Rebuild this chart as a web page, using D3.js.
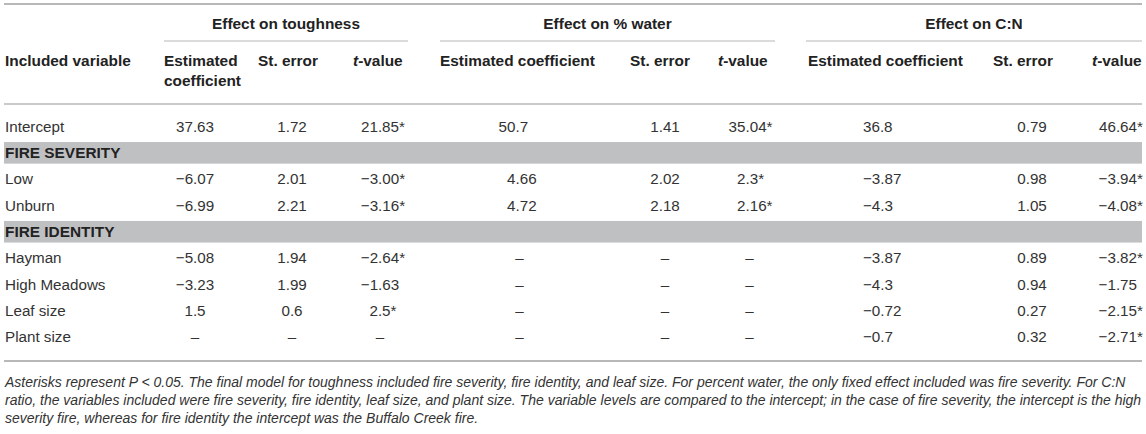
<!DOCTYPE html>
<html>
<head>
<meta charset="utf-8">
<script src="https://cdn.jsdelivr.net/npm/d3@7"></script>
<style>
  body { margin: 0; background: #fff; }
  text { font-family: "Liberation Sans", Arial, Helvetica, sans-serif; }
</style>
</head>
<body>
<div id="table"></div>
<script>
// table content
const variables = ["Intercept", "Low", "Unburn", "Hayman", "High Meadows", "Leaf size", "Plant size"];
const sections = [
    { name: "FIRE SEVERITY", before: "Low" },
    { name: "FIRE IDENTITY", before: "Hayman" }
];
const groups = ["Effect on toughness", "Effect on % water", "Effect on C:N"];
const columnHeads = ["Estimated coefficient", "St. error", "t-value"];

// one array per column, in the order of `variables`
const toughnessEst = ["37.63", "−6.07", "−6.99", "−5.08", "−3.23", "1.5", "–"];
const toughnessSE  = ["1.72", "2.01", "2.21", "1.94", "1.99", "0.6", "–"];
const toughnessT   = ["21.85*", "−3.00*", "−3.16*", "−2.64*", "−1.63", "2.5*", "–"];
const waterEst     = ["50.7", "4.66", "4.72", "–", "–", "–", "–"];
const waterSE      = ["1.41", "2.02", "2.18", "–", "–", "–", "–"];
const waterT       = ["35.04*", "2.3*", "2.16*", "–", "–", "–", "–"];
const cnEst        = ["36.8", "−3.87", "−4.3", "−3.87", "−4.3", "−0.72", "−0.7"];
const cnSE         = ["0.79", "0.98", "1.05", "0.89", "0.94", "0.27", "0.32"];
const cnT          = ["46.64*", "−3.94*", "−4.08*", "−3.82*", "−1.75", "−2.15*", "−2.71*"];

const footnote = [
    "Asterisks represent P < 0.05. The final model for toughness included fire severity, fire identity, and leaf size. For percent water, the only fixed effect included was fire severity. For C:N",
    "ratio, the variables included were fire severity, fire identity, leaf size, and plant size. The variable levels are compared to the intercept; in the case of fire severity, the intercept is the high",
    "severity fire, whereas for fire identity the intercept was the Buffalo Creek fire."
];

const seriesByColumn = [toughnessEst, toughnessSE, toughnessT, waterEst, waterSE, waterT, cnEst, cnSE, cnT];

// ---- layout ----
const W = 1146, H = 434;
const left = 4, right = 1142;
const textColor = "#333", headColor = "#222", ruleColor = "#b8b8b8", bandColor = "#bfc0c2";

const svg = d3.select("#table").append("svg")
    .attr("width", W)
    .attr("height", H);

svg.append("rect").attr("width", W).attr("height", H).attr("fill", "#fff");

// rows, with section bands inserted
const rows = [];
variables.forEach(v => {
    const s = sections.find(s => s.before === v);
    if (s) rows.push({ key: s.name, section: true });
    rows.push({ key: v, section: false });
});

const y = d3.scaleBand()
    .domain(rows.map(r => r.key))
    .range([113.4, 350.1]);

const colKeys = [];
groups.forEach(g => columnHeads.forEach(c => colKeys.push(g + "|" + c)));

const headX = d3.scaleOrdinal().domain(colKeys)
    .range([164, 258, 353, 440, 630, 718, 808, 993, 1092]);
const cellX = d3.scaleOrdinal().domain(colKeys)
    .range([195, 292, 380, 515.5, 665, 745.5, 863, 1032, 1137]);
const cellAlign = d3.scaleOrdinal().domain(colKeys)
    .range(["middle", "middle", "middle", "decimal", "middle", "decimal", "start", "middle", "end"]);
const groupSpan = d3.scaleOrdinal().domain(groups)
    .range([[164, 408], [440, 775], [806, 1142]]);

// rules
function rule(y0, x0, x1, w) {
    svg.append("line")
        .attr("x1", x0).attr("x2", x1)
        .attr("y1", y0).attr("y2", y0)
        .attr("stroke", ruleColor)
        .attr("stroke-width", w);
}
rule(4, left, right, 2);
rule(104, left, right, 1.6);
rule(361, left, right, 2);

// section bands
const bandH = 21.6;
svg.selectAll("rect.band")
    .data(rows.filter(r => r.section))
    .join("rect")
    .attr("class", "band")
    .attr("x", left)
    .attr("width", right - left)
    .attr("y", d => y(d.key) + (y.bandwidth() - bandH) / 2)
    .attr("height", bandH)
    .attr("fill", bandColor);

// group headers
const headSize = "15.4px";
groups.forEach(g => {
    const [x0, x1] = groupSpan(g);
    svg.append("text")
        .attr("x", (x0 + x1) / 2)
        .attr("y", 24)
        .attr("dy", "0.35em")
        .attr("text-anchor", "middle")
        .style("font-size", headSize)
        .style("font-weight", "bold")
        .style("fill", headColor)
        .text(g);
    rule(41, x0, x1, 1.2);
});

// column headers
svg.append("text")
    .attr("x", 5).attr("y", 61).attr("dy", "0.35em")
    .style("font-size", headSize).style("font-weight", "bold").style("fill", headColor)
    .text("Included variable");

colKeys.forEach((k, i) => {
    const head = k.split("|")[1];
    const t = svg.append("text")
        .attr("x", headX(k)).attr("y", 61).attr("dy", "0.35em")
        .style("font-size", headSize).style("font-weight", "bold").style("fill", headColor);
    if (head === "t-value") {
        t.append("tspan").style("font-style", "italic").text("t");
        t.append("tspan").text("-value");
    } else if (i === 0) {
        // narrow column: wraps onto two lines
        head.split(" ").forEach((w, j) => {
            t.append("tspan").attr("x", headX(k)).attr("dy", j === 0 ? "0.35em" : "20px").text(w);
        });
        t.attr("dy", null);
    } else {
        t.text(head);
    }
});

// row labels
const bodySize = "15.2px";
svg.selectAll("text.rowlabel")
    .data(rows)
    .join("text")
    .attr("class", "rowlabel")
    .attr("x", 5)
    .attr("y", d => y(d.key) + y.bandwidth() / 2)
    .attr("dy", "0.35em")
    .style("font-size", d => d.section ? headSize : bodySize)
    .style("font-weight", d => d.section ? "bold" : "normal")
    .style("fill", d => d.section ? headColor : textColor)
    .text(d => d.key);

// cells
function textWidth(str) {
    const tmp = svg.append("text").style("font-size", bodySize).text(str);
    const w = tmp.node().getComputedTextLength();
    tmp.remove();
    return w;
}

function drawCell(str, x, align, cy) {
    const star = str.endsWith("*");
    const num = star ? str.slice(0, -1) : str;
    const t = svg.append("text")
        .attr("y", cy)
        .attr("dy", "0.35em")
        .style("font-size", bodySize)
        .style("fill", textColor)
        .text(num);
    if (align === "decimal") {
        if (num.indexOf(".") < 0) {
            t.attr("x", x + 4).attr("text-anchor", "middle");
        } else {
            t.attr("x", x - textWidth(num.split(".")[0])).attr("text-anchor", "start");
        }
    } else {
        t.attr("x", x).attr("text-anchor", align);
    }
    if (star) {
        const b = t.node().getBBox();
        svg.append("text")
            .attr("x", b.x + b.width)
            .attr("y", cy)
            .attr("dy", "0.35em")
            .style("font-size", bodySize)
            .style("fill", textColor)
            .text("*");
    }
}

colKeys.forEach((k, ci) => {
    seriesByColumn[ci].forEach((val, ri) => {
        const key = variables[ri];
        drawCell(val, cellX(k), cellAlign(k), y(key) + y.bandwidth() / 2);
    });
});

// footnote
svg.selectAll("text.note")
    .data(footnote)
    .join("text")
    .attr("class", "note")
    .attr("x", 5)
    .attr("y", (d, i) => 382 + i * 18)
    .attr("dy", "0.35em")
    .style("font-size", "14px")
    .style("font-style", "italic")
    .style("fill", textColor)
    .text(d => d);
</script>
</body>
</html>
